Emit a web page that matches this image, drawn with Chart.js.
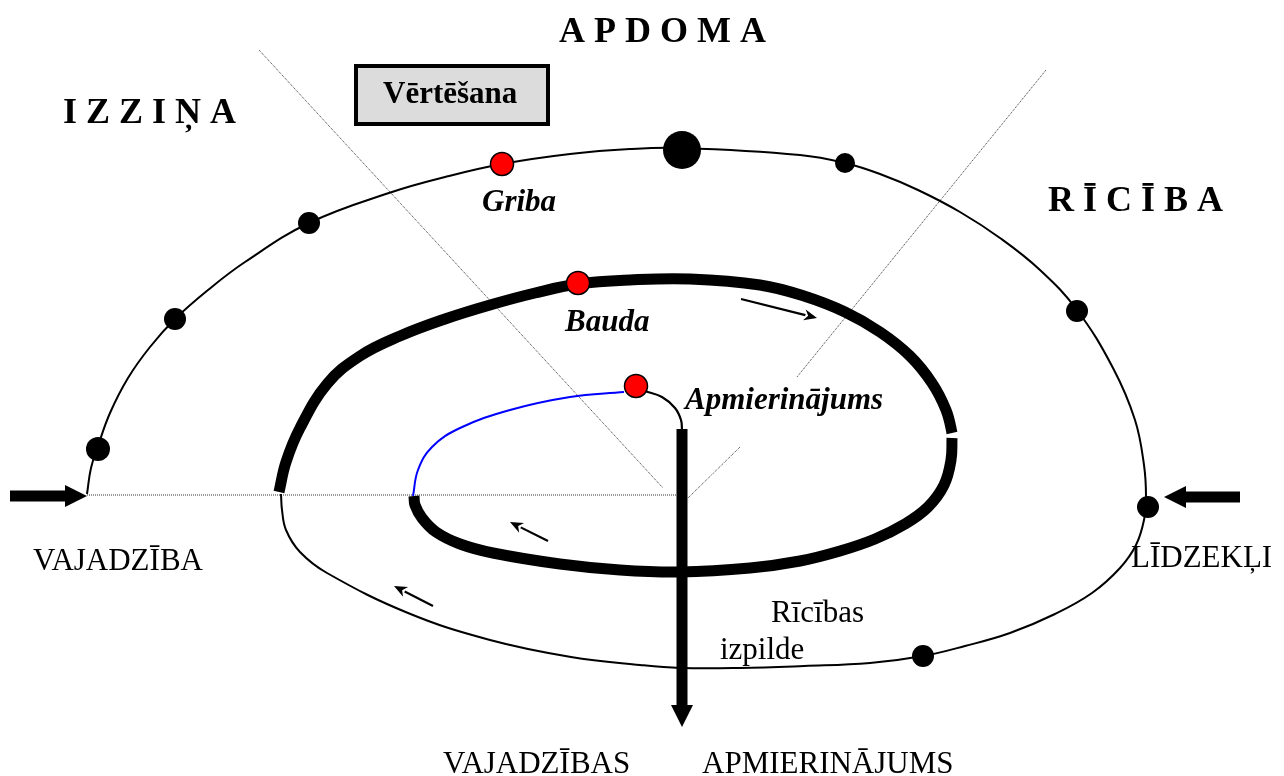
<!DOCTYPE html>
<html>
<head>
<meta charset="utf-8">
<script src="https://cdn.jsdelivr.net/npm/chart.js@4.4.1/dist/chart.umd.min.js"></script>
<style>
  html, body { margin: 0; padding: 0; background: #fff; }
  #wrap { width: 1284px; height: 776px; }
</style>
</head>
<body>
<div id="wrap"><canvas id="diagram" width="1284" height="776"></canvas></div>
<script>

// outer thin loop: vajadzība -> griba -> līdzekļi -> rīcības izpilde
var outerX = [87, 91, 98, 110, 128, 150, 175, 208, 245, 309, 392, 445, 502, 570, 630, 682, 800, 845, 880, 918, 960, 1000, 1040, 1077, 1113, 1135, 1144, 1146, 1144, 1136, 1120, 1092, 1055, 1010, 965, 923, 870, 804, 740, 680, 640, 571, 490, 408, 327, 300, 286, 282, 281];
var outerY = [494, 468, 446, 413, 378, 347, 319, 290, 262, 223, 192, 177, 164, 154, 149, 148, 155, 163, 174, 190, 212, 238, 270, 310, 368, 420, 465, 497, 520, 545, 568, 593, 614, 633, 646, 656, 663, 666, 668, 668, 665, 657, 640, 613, 573, 552, 530, 510, 494];

// thick middle loop (bauda)
var thickX = [279, 286, 300, 327, 360, 400, 445, 490, 535, 578, 630, 690, 760, 804, 845, 880, 910, 932, 946, 952, 952, 951, 944, 928, 905, 875, 840, 800, 750, 680, 620, 560, 493, 460, 436, 422, 415, 414];
var thickY = [492, 462, 428, 384, 356, 336, 319, 305, 293, 284, 280, 279, 285, 296, 312, 332, 356, 383, 410, 433, 438, 460, 485, 507, 524, 539, 551, 561, 568, 572, 570, 564, 553, 544, 532, 518, 505, 496];
var thickGapAt = 19; // segment 19 -> 20 is left open

// inner blue curve up to apmierinājums
var blueX = [413, 418, 432, 460, 510, 570, 624];
var blueY = [496, 470, 447, 428, 410, 397, 392];

// small arc from the red dot down to the vertical arrow
var arcX = [645, 662, 675, 681, 682];
var arcY = [391, 397, 408, 420, 430];

// dotted guide lines (null = break)
var guideAX = [259, 663];
var guideAY = [50, 488];
var guideBX = [1046, 797, null, 740, 688];
var guideBY = [70, 377, null, 447, 498];
var guideHX = [87, 677];
var guideHY = [495, 495];

// black dots on the outer loop
var blackDotX = [98, 175, 309, 682, 845, 1077, 1148, 923];
var blackDotY = [449, 319, 223, 150, 163, 311, 507, 656];
var blackDotR = [12, 11, 11, 19, 10, 11, 11, 11];

// red dots: griba, bauda, apmierinājums
var redDotX = [502, 578, 636];
var redDotY = [164, 283, 386];

// arrows: from -> to
var arrowFromX = [10, 1240, 682, 741, 548, 433];
var arrowFromY = [496, 497, 429, 299, 541, 606];
var arrowToX = [87, 1164, 682, 817, 510, 394];
var arrowToY = [496, 497, 727, 318, 522, 586];
var arrowKind = ['big', 'big', 'big', 'small', 'small', 'small'];

// texts
var labelText = ['A P D O M A', 'I Z Z I Ņ A', 'R Ī C Ī B A', 'Vērtēšana', 'Griba', 'Bauda', 'Apmierinājums',
  'VAJADZĪBA', 'LĪDZEKĻI', 'Rīcības', 'izpilde', 'VAJADZĪBAS', 'APMIERINĀJUMS'];
var labelX = [559, 63, 1048, 383, 482, 565, 685, 33, 1131, 771, 720, 443, 702];
var labelY = [42, 123, 211, 103, 211, 331, 409, 570, 567, 622, 659, 773, 773];
var labelKind = ['head', 'head', 'head', 'bold', 'bi', 'bi', 'bi', 'plain', 'plain', 'plain', 'plain', 'plain', 'plain'];

// box behind "Vērtēšana"
var boxX = [356, 548];
var boxY = [66, 124];

function pts(xs, ys) {
  return xs.map(function (x, i) { return { x: x, y: x === null ? null : ys[i] }; });
}

var fonts = {
  head: 'bold 36px "Liberation Serif"',
  bold: 'bold 31px "Liberation Serif"',
  bi: 'italic bold 31px "Liberation Serif"',
  plain: '31px "Liberation Serif"'
};

var diagramPlugin = {
  id: 'diagram',
  beforeDatasetsDraw: function (chart) {
    var ctx = chart.ctx, sx = chart.scales.x, sy = chart.scales.y;
    var x0 = sx.getPixelForValue(boxX[0]), x1 = sx.getPixelForValue(boxX[1]);
    var y0 = sy.getPixelForValue(boxY[0]), y1 = sy.getPixelForValue(boxY[1]);
    ctx.save();
    ctx.fillStyle = '#dcdcdc';
    ctx.fillRect(x0, y0, x1 - x0, y1 - y0);
    ctx.lineWidth = 4;
    ctx.strokeStyle = '#000';
    ctx.strokeRect(x0, y0, x1 - x0, y1 - y0);
    ctx.restore();
  },
  afterDatasetsDraw: function (chart) {
    var ctx = chart.ctx, sx = chart.scales.x, sy = chart.scales.y;
    ctx.save();
    // arrows
    for (var i = 0; i < arrowFromX.length; i++) {
      var ax = sx.getPixelForValue(arrowFromX[i]), ay = sy.getPixelForValue(arrowFromY[i]);
      var bx = sx.getPixelForValue(arrowToX[i]), by = sy.getPixelForValue(arrowToY[i]);
      var big = arrowKind[i] === 'big';
      var hl = big ? 22 : 13, hw = big ? 11 : 5.5, lw = big ? 11 : 2.2;
      var ang = Math.atan2(by - ay, bx - ax);
      var cx = bx - hl * Math.cos(ang), cy = by - hl * Math.sin(ang);
      ctx.strokeStyle = '#000';
      ctx.fillStyle = '#000';
      ctx.lineWidth = lw;
      ctx.lineCap = 'butt';
      ctx.beginPath();
      ctx.moveTo(ax, ay);
      ctx.lineTo(cx + 1 * Math.cos(ang), cy + 1 * Math.sin(ang));
      ctx.stroke();
      ctx.beginPath();
      ctx.moveTo(bx, by);
      ctx.lineTo(cx - hw * Math.sin(ang), cy + hw * Math.cos(ang));
      if (!big) ctx.lineTo(cx + 0.3 * hl * Math.cos(ang), cy + 0.3 * hl * Math.sin(ang));
      ctx.lineTo(cx + hw * Math.sin(ang), cy - hw * Math.cos(ang));
      ctx.closePath();
      ctx.fill();
    }
    // texts
    ctx.textBaseline = 'alphabetic';
    ctx.textAlign = 'left';
    ctx.fillStyle = '#000';
    for (var j = 0; j < labelText.length; j++) {
      ctx.font = fonts[labelKind[j]];
      ctx.fillText(labelText[j], sx.getPixelForValue(labelX[j]), sy.getPixelForValue(labelY[j]));
    }
    ctx.restore();
  }
};

var curve = { showLine: true, fill: false, pointRadius: 0, borderCapStyle: 'butt', tension: 0.4 };
var guide = { showLine: true, pointRadius: 0, borderColor: '#333', borderWidth: 1, borderDash: [1, 1], order: 5 };

new Chart(document.getElementById('diagram'), {
  type: 'scatter',
  data: {
    datasets: [
      {
        label: 'Griba / Bauda / Apmierinājums',
        data: pts(redDotX, redDotY),
        pointRadius: 11.5,
        pointBackgroundColor: '#ff0000',
        pointBorderColor: '#000',
        pointBorderWidth: 1.5,
        order: 0
      },
      {
        label: 'points',
        data: pts(blackDotX, blackDotY),
        pointRadius: blackDotR,
        pointBackgroundColor: '#000',
        pointBorderColor: '#000',
        pointBorderWidth: 0,
        order: 1
      },
      Object.assign({}, curve, {
        label: 'outer',
        data: pts(outerX, outerY),
        borderColor: '#000',
        borderWidth: 2,
        order: 3
      }),
      Object.assign({}, curve, {
        label: 'bauda',
        data: pts(thickX, thickY),
        borderColor: '#000',
        borderWidth: 11,
        segment: {
          borderColor: function (c) { return c.p0DataIndex === thickGapAt ? 'rgba(0,0,0,0)' : undefined; }
        },
        order: 2
      }),
      Object.assign({}, curve, {
        label: 'inner',
        data: pts(blueX, blueY),
        borderColor: '#0000ff',
        borderWidth: 2,
        order: 2
      }),
      Object.assign({}, curve, {
        label: 'arc',
        data: pts(arcX, arcY),
        borderColor: '#000',
        borderWidth: 2.2,
        order: 2
      }),
      Object.assign({}, guide, { label: 'guideA', data: pts(guideAX, guideAY) }),
      Object.assign({}, guide, { label: 'guideB', data: pts(guideBX, guideBY) }),
      Object.assign({}, guide, { label: 'guideH', data: pts(guideHX, guideHY) })
    ]
  },
  options: {
    responsive: false,
    animation: false,
    layout: { padding: 0, autoPadding: false },
    plugins: { legend: { display: false }, tooltip: { enabled: false } },
    scales: {
      x: { type: 'linear', min: 0, max: 1284, display: false },
      y: { type: 'linear', min: 0, max: 776, reverse: true, display: false }
    }
  },
  plugins: [diagramPlugin]
});
</script>
</body>
</html>
